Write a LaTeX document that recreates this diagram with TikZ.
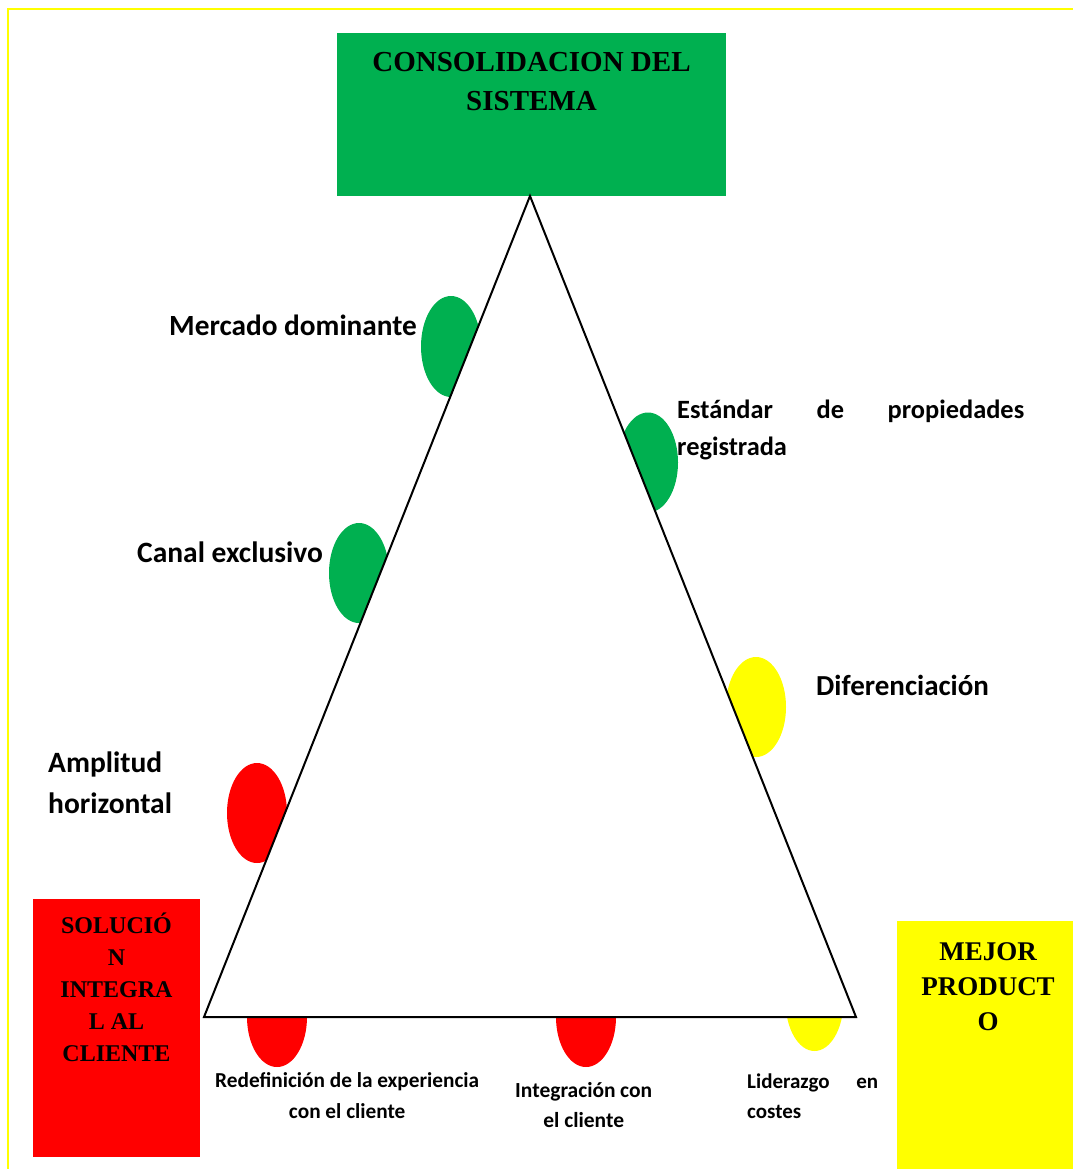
\documentclass[tikz,border=0pt]{standalone}
\usepackage{fontspec}
\setmainfont{Liberation Serif}
\newfontfamily\calfont{Carlito}
\definecolor{boxgreen}{HTML}{00B050}
\definecolor{boxred}{HTML}{FF0000}
\definecolor{boxyellow}{HTML}{FFFF00}
\begin{document}
\begin{tikzpicture}[x=1pt,y=-1pt,
  panel/.style={draw=none, inner sep=0pt, outer sep=0pt, anchor=north west},
  title/.style={inner sep=0pt, anchor=base, font=\bfseries},
  tag/.style={inner sep=0pt, anchor=base west, font=\calfont\bfseries},
  edge/.style={line width=2pt, line join=miter}
]
\useasboundingbox (0,0) rectangle (1073,1169);

% thin yellow frame (top and left edges)
\draw[boxyellow, line width=2pt] (8,1169) -- (8,9) -- (1073,9);

% apex box
\node[panel, fill=boxgreen, minimum width=389pt, minimum height=163pt] (cons) at (337,33) {};
\node[title] (consT) at (531.5,72)
  {\parbox[t]{389pt}{\centering\fontsize{29}{39}\selectfont CONSOLIDACION DEL\\SISTEMA}};

% markers on the sides of the triangle
\fill[boxgreen]  (451,346.5) ellipse [x radius=30pt, y radius=50.5pt];
\fill[boxgreen]  (648,462.5) ellipse [x radius=30pt, y radius=50pt];
\fill[boxgreen]  (359,573)   ellipse [x radius=30pt, y radius=50pt];
\fill[boxyellow] (756,707)   ellipse [x radius=30pt, y radius=50pt];
\fill[boxred]    (257,813)   ellipse [x radius=30pt, y radius=50pt];
\fill[boxred]    (277,1017)  ellipse [x radius=30pt, y radius=50pt];
\fill[boxred]    (586,1017)  ellipse [x radius=30pt, y radius=50pt];
\fill[boxyellow] (814.5,1001) ellipse [x radius=29pt, y radius=50pt];

% the triangle
\coordinate (apex) at (530,196);
\coordinate (bl) at (204,1017);
\coordinate (br) at (856,1017);
\draw[edge, fill=white] (apex) -- (bl) -- (br) -- cycle;

% corner boxes
\node[panel, fill=boxred, minimum width=167pt, minimum height=258pt] (sol) at (33,899) {};
\node[title] (solT) at (116.5,933)
  {\parbox[t]{167pt}{\centering\fontsize{24}{32}\selectfont SOLUCIÓ\\N\\INTEGRA\\L AL\\CLIENTE}};
\node[panel, fill=boxyellow, minimum width=176pt, minimum height=248pt] (mej) at (897,921) {};
\node[title] (mejT) at (988,960)
  {\parbox[t]{176pt}{\centering\fontsize{27}{35}\selectfont MEJOR\\PRODUCT\\O}};

% side labels
\node[tag] (mercado) at (169,335) {\fontsize{29.3}{34}\selectfont Mercado dominante};
\node[tag] (canal) at (137,562) {\fontsize{29.5}{34}\selectfont Canal exclusivo};
\node[tag] (estandar) at (677,418)
  {\parbox[t]{347pt}{\fontsize{26.4}{37}\selectfont\makebox[347pt][s]{Estándar de propiedades}\\registrada}};
\node[tag] (dif) at (816,695) {\fontsize{29}{34}\selectfont Diferenciación};
\node[tag] (ampl) at (48,772)
  {\parbox[t]{200pt}{\fontsize{29.5}{41}\selectfont Amplitud\\horizontal}};

% base labels
\node[tag] (redef) at (215,1087)
  {\parbox[t]{264pt}{\centering\fontsize{21.3}{31}\selectfont Redefinición de la experiencia\\con el cliente}};
\node[tag] (integ) at (515,1097)
  {\parbox[t]{137pt}{\centering\fontsize{21.5}{30}\selectfont Integración con\\el cliente}};
\node[tag] (lider) at (747,1088)
  {\parbox[t]{131pt}{\fontsize{21}{30}\selectfont\makebox[131pt][s]{Liderazgo en}\\costes}};
\end{tikzpicture}
\end{document}
